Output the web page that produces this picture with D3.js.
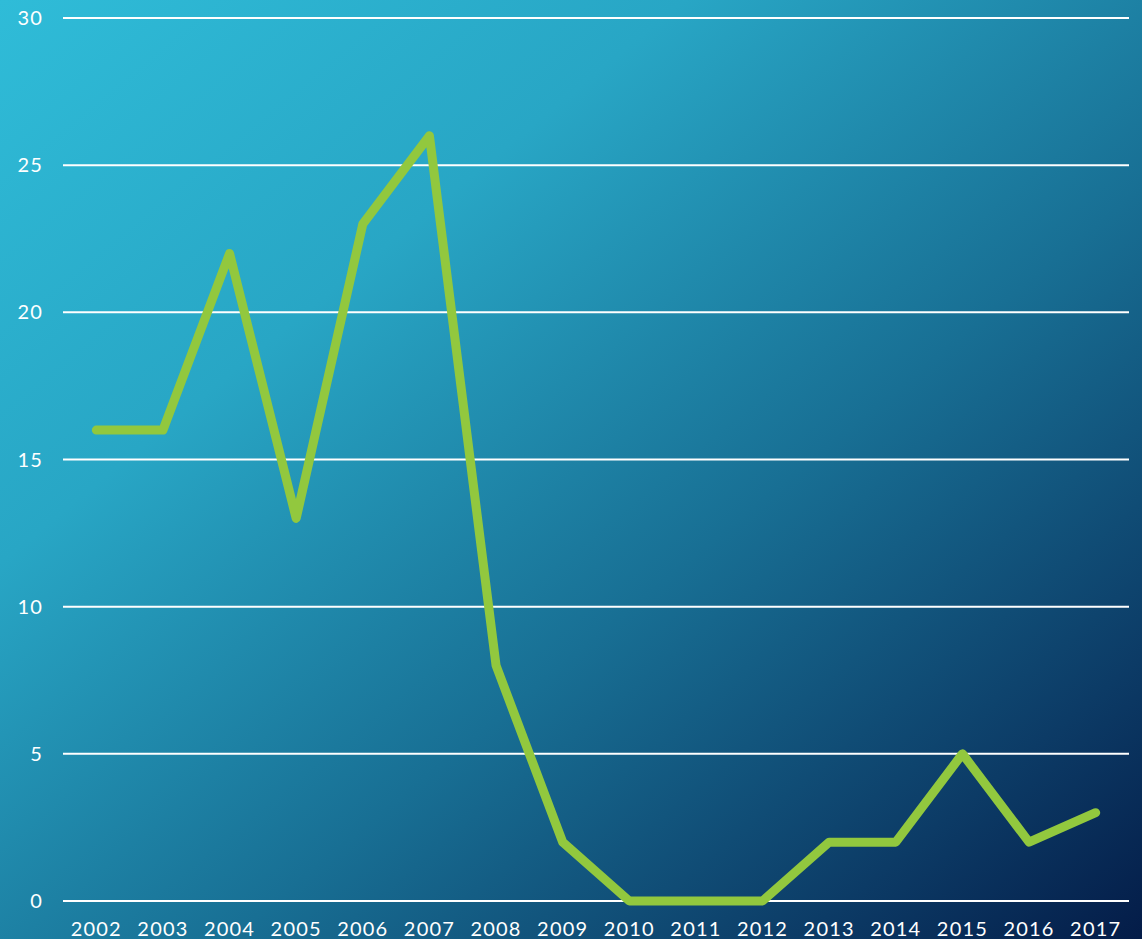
<!DOCTYPE html>
<html>
<head>
<meta charset="utf-8">
<script src="https://cdn.jsdelivr.net/npm/d3@7"></script>
<style>
  body { margin: 0; overflow: hidden; }
  svg { display: block; font-family: "Lato", "DejaVu Sans", sans-serif; }
  .grid line { stroke: #ffffff; stroke-width: 2; }
  .lbl { fill: #ffffff; font-size: 20px; letter-spacing: 1.2px; }
  .series { fill: none; stroke: #92c83e; stroke-width: 9; stroke-linecap: round; stroke-linejoin: round; }
</style>
</head>
<body>
<svg width="1142" height="939"></svg>
<script>
const years = ["2002","2003","2004","2005","2006","2007","2008","2009","2010","2011","2012","2013","2014","2015","2016","2017"]
const values = [16, 16, 22, 13, 23, 26, 8, 2, 0, 0, 0, 2, 2, 5, 2, 3]
const yTicks = [0, 5, 10, 15, 20, 25, 30]

const svg = d3.select("svg")

const defs = svg.append("defs")
const grad = defs.append("linearGradient")
  .attr("id","bg")
  .attr("x1","0%").attr("y1","0%")
  .attr("x2","100%").attr("y2","100%")
grad.append("stop").attr("offset","0%").attr("stop-color","#2fbcd8")
grad.append("stop").attr("offset","30%").attr("stop-color","#28a6c5")
grad.append("stop").attr("offset","60%").attr("stop-color","#186f94")
grad.append("stop").attr("offset","85%").attr("stop-color","#0c3b66")
grad.append("stop").attr("offset","100%").attr("stop-color","#041c48")

svg.append("rect")
  .attr("width",1142)
  .attr("height",939)
  .attr("fill","url(#bg)")

const x = d3.scalePoint()
  .domain(years)
  .range([63, 1129])
  .padding(0.5)

const y = d3.scaleLinear()
  .domain([0, 30])
  .range([901, 18])

const grid = svg.append("g").attr("class","grid")
grid.selectAll("line")
  .data(yTicks)
  .enter().append("line")
  .attr("x1",63)
  .attr("x2",1129)
  .attr("y1",d => y(d))
  .attr("y2",d => y(d))

svg.selectAll("text.ylbl")
  .data(yTicks)
  .enter().append("text")
  .attr("class","lbl ylbl")
  .attr("x",43)
  .attr("y",d => y(d))
  .attr("dy","0.35em")
  .style("text-anchor","end")
  .text(d => d)

svg.selectAll("text.xlbl")
  .data(years)
  .enter().append("text")
  .attr("class","lbl xlbl")
  .attr("x",d => x(d))
  .attr("y",929)
  .attr("dy","0.35em")
  .style("text-anchor","middle")
  .text(d => d)

const line = d3.line()
  .x((d,i) => x(years[i]))
  .y(d => y(d))

svg.append("path")
  .datum(values)
  .attr("class","series")
  .attr("d",line)
</script>
</body>
</html>
